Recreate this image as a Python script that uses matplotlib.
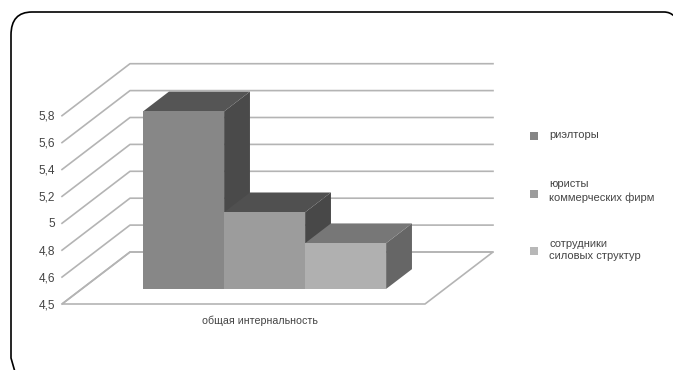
import numpy as np
import matplotlib.pyplot as plt
from matplotlib.patches import Polygon, PathPatch
from matplotlib.path import Path

plt.rcParams['font.family'] = ['Liberation Sans', 'DejaVu Sans']

# данные
tick_values = [4.5, 4.6, 4.8, 5, 5.2, 5.4, 5.6, 5.8]
tick_labels = ['4,5', '4,6', '4,8', '5', '5,2', '5,4', '5,6', '5,8']
category = 'общая интернальность'
series = ['риэлторы', 'юристы\nкоммерческих фирм', 'сотрудники\nсиловых структур']
values = [5.72, 4.97, 4.74]

front_colors = ['#878787', '#9c9c9c', '#b0b0b0']
top_colors = ['#555555', '#505050', '#777777']
side_colors = ['#4a4a4a', '#484848', '#666666']
legend_colors = ['#858585', '#9c9c9c', '#b8b8b8']
grid_color = '#b4b4b4'
text_color = '#444444'

fig = plt.figure(figsize=(6.73, 3.70), dpi=100)
ax = fig.add_axes([0, 0, 1, 1])
ax.set_xlim(0, 673)
ax.set_ylim(370, 0)
ax.axis('off')

# геометрия псевдо-3D
x0, x1 = 62, 425
y_base = 304
step = 26.9
dx, dy = 68, 52


def level(v):
    return np.interp(v, tick_values, np.arange(len(tick_values)))


def proj(x, v, d):
    # x - вдоль оси, v - значение, d - глубина 0..1
    return (x + dx * d, y_base - step * level(v) - dy * d)


# пол и сетка
floor = [proj(x0, 4.5, 0), proj(x1, 4.5, 0), proj(x1, 4.5, 1), proj(x0, 4.5, 1)]
ax.add_patch(Polygon(floor, closed=True, fill=False, ec=grid_color, lw=1.2, zorder=1))
for v in tick_values:
    p = [proj(x0, v, 0), proj(x0, v, 1), proj(x1 + dx - dx, v, 1)]
    ax.plot(*zip(*p), color=grid_color, lw=1.2, zorder=1)

for v, lab in zip(tick_values, tick_labels):
    x, y = proj(x0, v, 0)
    ax.text(x - 7, y + 1, lab, ha='right', va='center', fontsize=8.6, color=text_color)

# столбики
bar_left = 123.4
bar_w = 81
d_front, d_back = 0.29, 0.67
for i, v in enumerate(values):
    l = bar_left + i * bar_w
    r = l + bar_w
    front = [proj(l, 4.5, d_front), proj(r, 4.5, d_front), proj(r, v, d_front), proj(l, v, d_front)]
    top = [proj(l, v, d_front), proj(r, v, d_front), proj(r, v, d_back), proj(l, v, d_back)]
    side = [proj(r, 4.5, d_front), proj(r, 4.5, d_back), proj(r, v, d_back), proj(r, v, d_front)]
    z = 3 + i
    ax.add_patch(Polygon(side, closed=True, fc=side_colors[i], ec='none', zorder=z))
    ax.add_patch(Polygon(top, closed=True, fc=top_colors[i], ec='none', zorder=z))
    ax.add_patch(Polygon(front, closed=True, fc=front_colors[i], ec='none', zorder=z))

ax.text(260, 321, category, ha='center', va='center', fontsize=7.7, color=text_color)

# легенда
legend_y = [136, 194, 251]
for name, c, y, ty in zip(series, legend_colors, legend_y, [135, 191, 250]):
    ax.add_patch(Polygon([(530, y - 4), (538, y - 4), (538, y + 4), (530, y + 4)], closed=True,
                         fc=c, ec='none'))
    ax.text(549, ty, name, ha='left', va='center', fontsize=8, color=text_color, linespacing=1.3)

# рамка со скруглёнными углами
verts = [(15, 372), (11, 358), (11, 35), (11, 12), (32, 12), (664, 12), (670, 12), (674, 16)]
codes = [Path.MOVETO, Path.LINETO, Path.LINETO, Path.CURVE3, Path.CURVE3, Path.LINETO, Path.CURVE3, Path.CURVE3]
ax.add_patch(PathPatch(Path(verts, codes), fill=False, ec='black', lw=1.2, zorder=10))

fig.savefig('out.png', dpi=100)
